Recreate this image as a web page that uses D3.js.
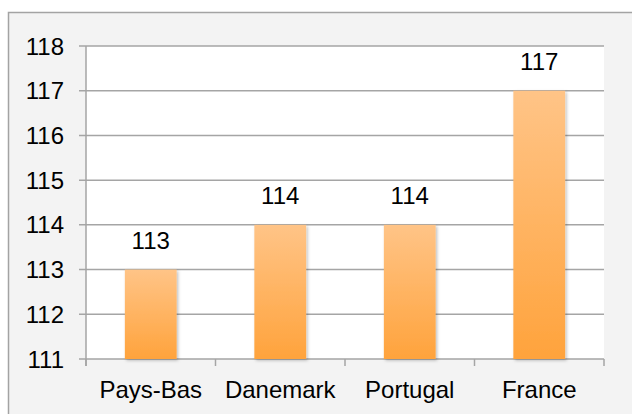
<!DOCTYPE html>
<html>
<head>
<meta charset="utf-8">
<script src="https://cdn.jsdelivr.net/npm/d3@7.9.0/dist/d3.min.js"></script>
<style>
  html, body { margin: 0; padding: 0; background: #fff; }
  svg { display: block; font-family: "Liberation Sans", Arial, sans-serif; }
</style>
</head>
<body>
<svg id="chart" width="632" height="414"></svg>
<script>
const countries = ['Pays-Bas', 'Danemark', 'Portugal', 'France'];
const values = [113, 114, 114, 117];
const yTicks = [111, 112, 113, 114, 115, 116, 117, 118];

const svg = d3.select('#chart');
const width = 632, height = 414;
const margin = { top: 46, right: 28, bottom: 55, left: 86 };
const innerW = width - margin.left - margin.right;
const innerH = height - margin.top - margin.bottom;
const fontSize = 24;

// frame + grey background
svg.append('rect')
  .attr('x', 8.5).attr('y', 12.5)
  .attr('width', width).attr('height', height)
  .attr('fill', '#f3f3f3')
  .attr('stroke', '#a3a3a3')
  .attr('stroke-width', 1.5);

const defs = svg.append('defs');
const grad = defs.append('linearGradient')
  .attr('id', 'barGrad').attr('x1', 0).attr('y1', 0).attr('x2', 0).attr('y2', 1);
grad.append('stop').attr('offset', '0%').attr('stop-color', '#ffc487');
grad.append('stop').attr('offset', '100%').attr('stop-color', '#ffa33c');

const shadow = defs.append('filter').attr('id', 'shadow')
  .attr('x', '-20%').attr('y', '-10%').attr('width', '150%').attr('height', '130%');
shadow.append('feDropShadow')
  .attr('dx', 1.5).attr('dy', 1.5).attr('stdDeviation', 1.5)
  .attr('flood-color', '#000').attr('flood-opacity', 0.25);

const g = svg.append('g').attr('transform', `translate(${margin.left},${margin.top})`);

const x = d3.scaleBand().domain(countries).range([0, innerW]).paddingInner(0.6).paddingOuter(0.3);
const y = d3.scaleLinear().domain([111, 118]).range([innerH, 0]);

// plot area
g.append('rect').attr('width', innerW).attr('height', innerH).attr('fill', '#fff');

// gridlines
g.selectAll('.grid').data(yTicks).join('line')
  .attr('x1', -7).attr('x2', innerW)
  .attr('y1', d => y(d)).attr('y2', d => y(d))
  .attr('stroke', '#a5a5a5').attr('stroke-width', 1.5);

// y axis line
g.append('line').attr('x1', 0).attr('x2', 0).attr('y1', 0).attr('y2', innerH + 7)
  .attr('stroke', '#a5a5a5').attr('stroke-width', 1.5);

// x ticks (category boundaries)
d3.range(countries.length + 1).forEach(i => {
  const xx = i * innerW / countries.length;
  g.append('line').attr('x1', xx).attr('x2', xx).attr('y1', innerH).attr('y2', innerH + 7)
    .attr('stroke', '#a5a5a5').attr('stroke-width', 1.5);
});

// y labels
g.selectAll('.ylab').data(yTicks).join('text')
  .attr('x', -22).attr('y', d => y(d)).attr('dy', '0.36em')
  .attr('text-anchor', 'end').attr('font-size', fontSize).attr('fill', '#000')
  .text(d => d);

// bars
g.selectAll('.bar').data(values).join('rect')
  .attr('x', (d, i) => x(countries[i]))
  .attr('y', d => y(d))
  .attr('width', x.bandwidth())
  .attr('height', d => innerH - y(d))
  .attr('fill', 'url(#barGrad)')
  .attr('filter', 'url(#shadow)');

// value labels
g.selectAll('.vlab').data(values).join('text')
  .attr('x', (d, i) => x(countries[i]) + x.bandwidth() / 2)
  .attr('y', d => y(d) - 21)
  .attr('text-anchor', 'middle').attr('font-size', fontSize).attr('fill', '#000')
  .text(d => d);

// category labels
g.selectAll('.xlab').data(countries).join('text')
  .attr('x', d => x(d) + x.bandwidth() / 2)
  .attr('y', innerH + 39)
  .attr('text-anchor', 'middle').attr('font-size', fontSize).attr('fill', '#000')
  .text(d => d);
</script>
</body>
</html>
